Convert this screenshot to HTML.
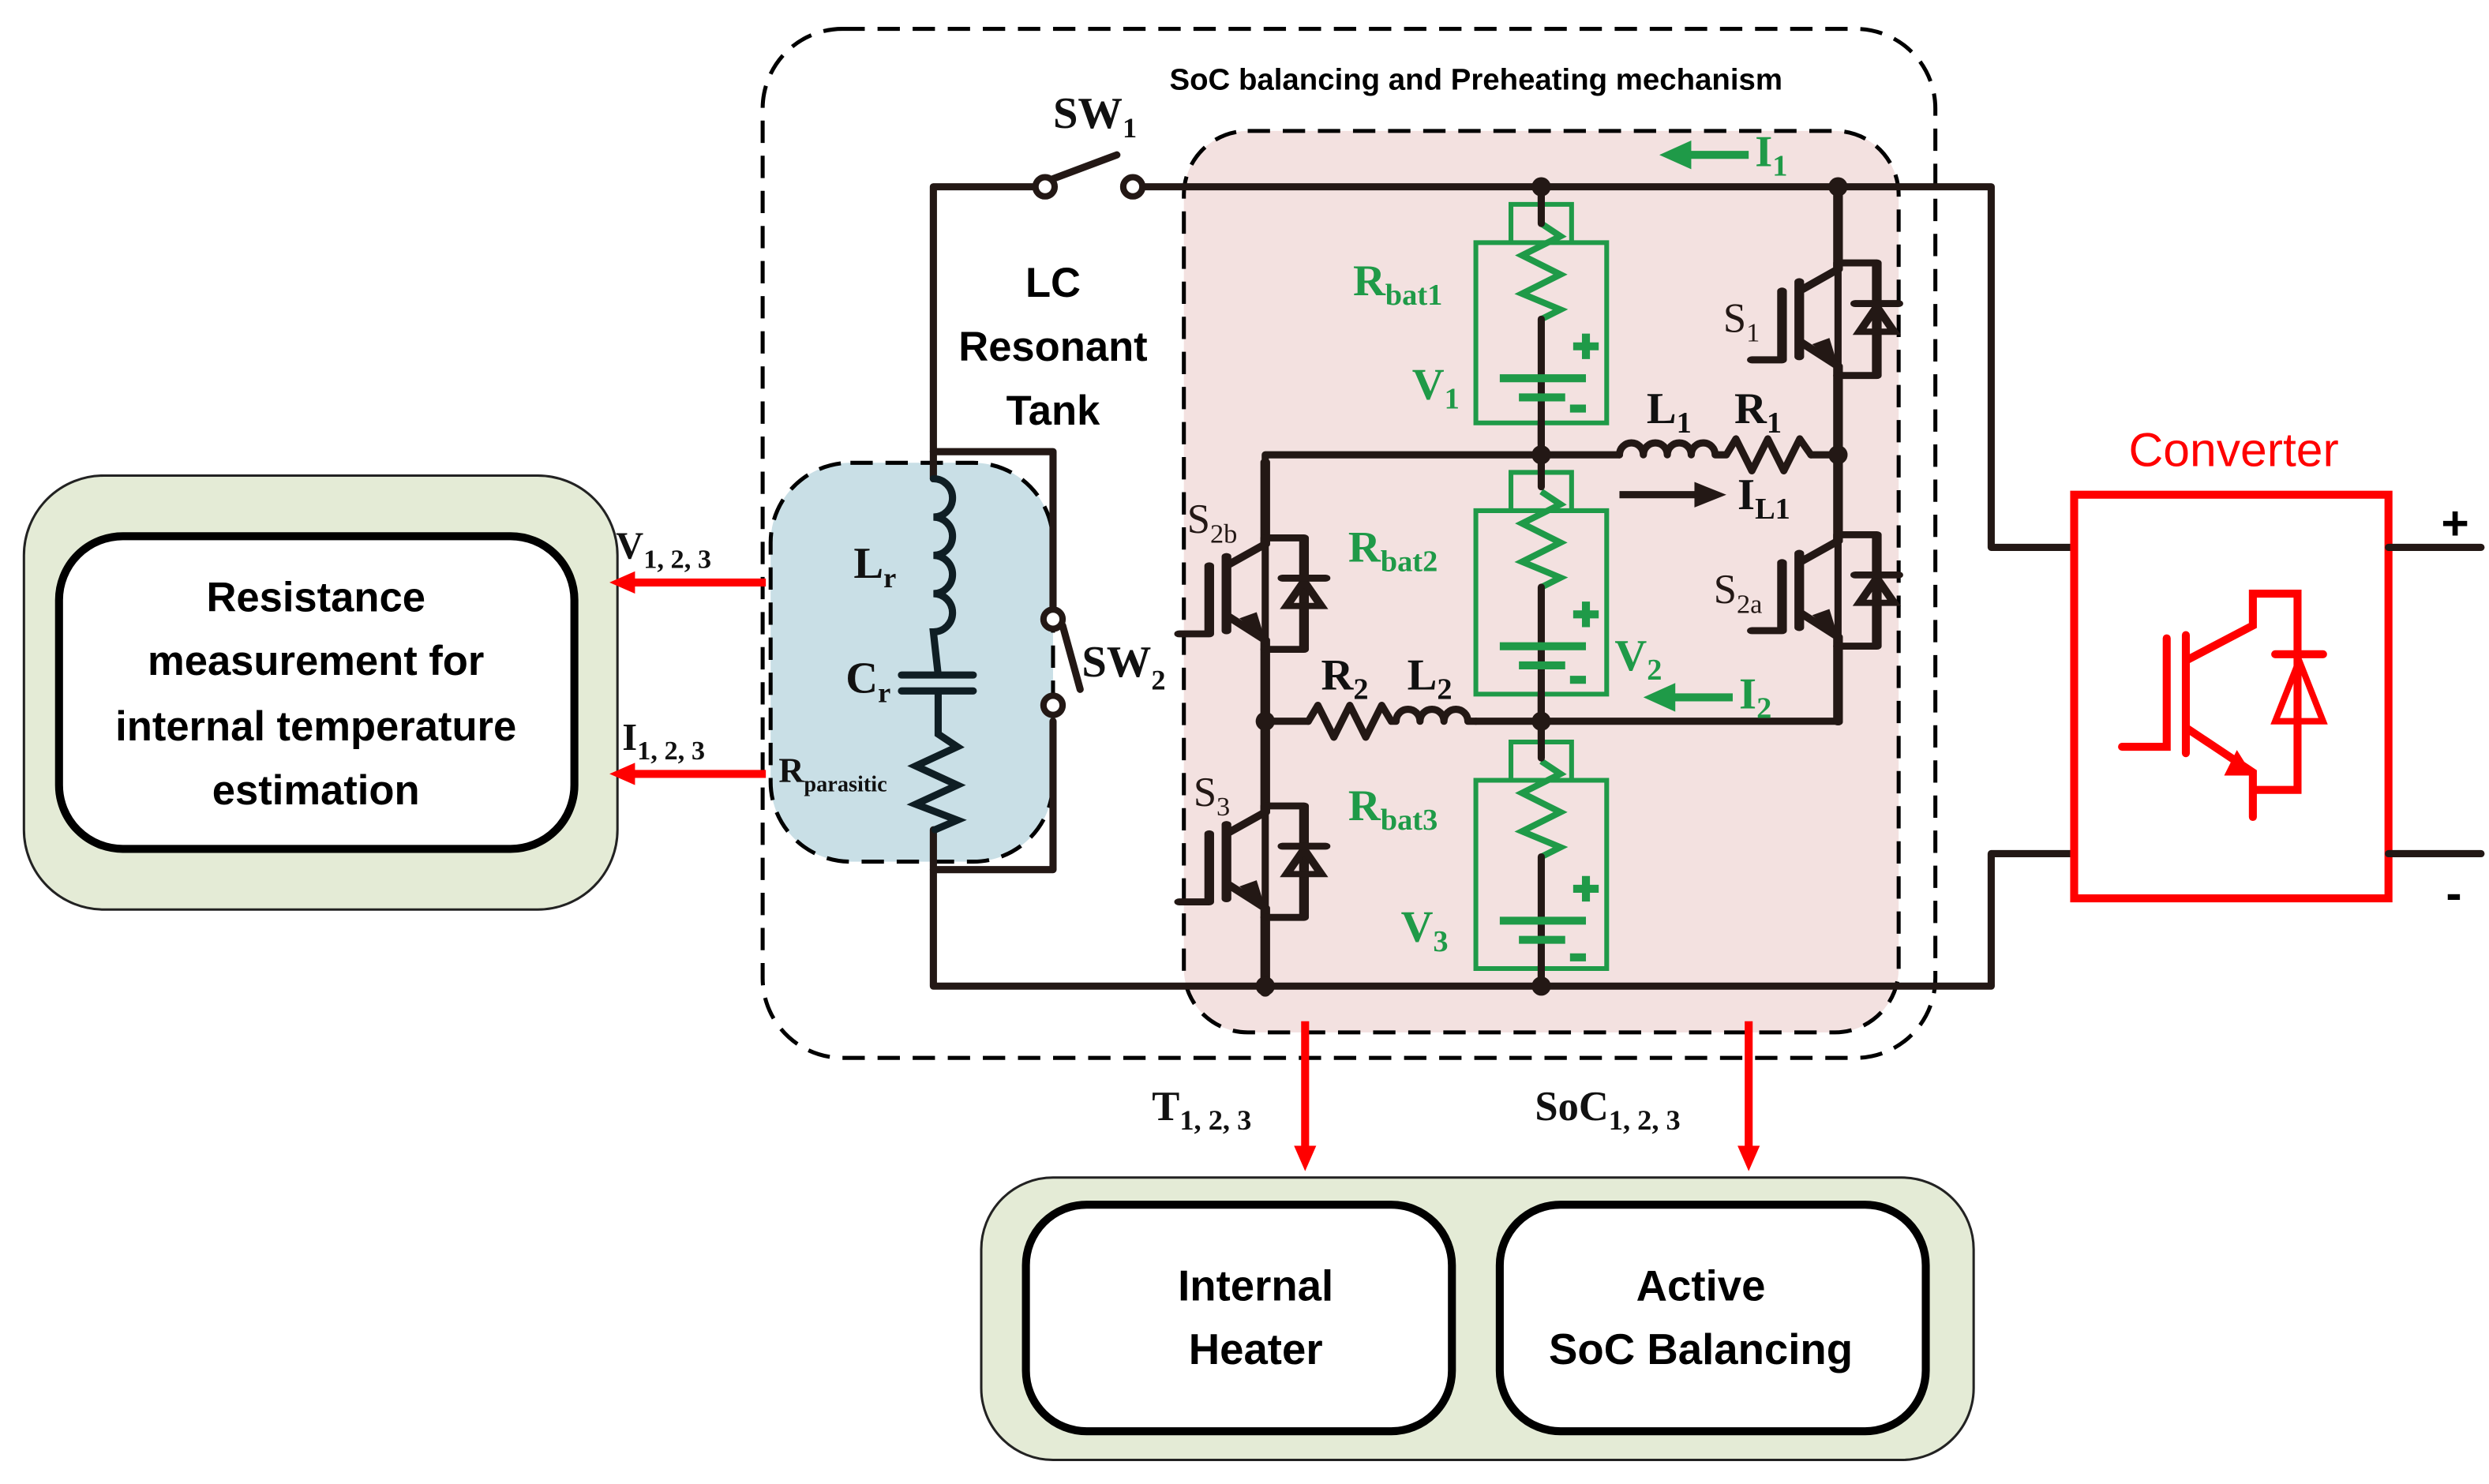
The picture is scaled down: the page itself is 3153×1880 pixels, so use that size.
<!DOCTYPE html>
<html><head><meta charset="utf-8"><style>
html,body{margin:0;padding:0;background:#fff;}
svg{display:block;}
.w{stroke:#231815;stroke-width:4.5;fill:none;stroke-linecap:round;stroke-linejoin:round;}
.g{stroke:#1f9a48;stroke-width:3;fill:none;}
.gt{fill:#1f9a48;font-family:"Liberation Serif",serif;font-weight:bold;}
.bt{fill:#111;font-family:"Liberation Serif",serif;font-weight:bold;}
.st{fill:#231815;font-family:"Liberation Serif",serif;}
.ss{fill:#000;font-family:"Liberation Sans",sans-serif;font-weight:bold;}
.r{stroke:#f00;stroke-width:5;fill:none;}
</style></head><body>
<svg width="3153" height="1880" viewBox="0 0 1560 930" xmlns="http://www.w3.org/2000/svg">
<defs>
<marker id="ar" markerWidth="16" markerHeight="14" refX="2" refY="7" orient="auto" markerUnits="userSpaceOnUse" viewBox="0 0 16 14"><path d="M0,0 L16,7 L0,14z" fill="#f00"/></marker>
<g id="igbtR">
<path class="w" d="M0,-85 V-32 L-18,-18 M-18,-24 V24 M-26,-18 V26 H-40 M-18,14 L0,30 V85"/>
<path d="M0,30 L-12,16 L-4,12z" fill="#231815"/>
<path class="w" d="M0,-32 V-36 H18 V36 H0"/>
<path d="M10,8 L26,8 L18,-8z" fill="none" stroke="#231815" stroke-width="4"/>
<path class="w" d="M8,-10 H28"/>
</g>
</defs>

<rect x="15" y="298" width="372" height="272" rx="50" fill="#e4ebd6" stroke="#222" stroke-width="1.5"/>
<rect x="37" y="336" width="323" height="196" rx="40" fill="#fff" stroke="#000" stroke-width="5"/>
<g class="ss" font-size="26" text-anchor="middle">
<text x="198" y="383">Resistance</text>
<text x="198" y="423">measurement  for</text>
<text x="198" y="464">internal temperature</text>
<text x="198" y="504">estimation</text>
</g>

<rect x="478" y="18" width="735" height="645" rx="50" fill="none" stroke="#000" stroke-width="2.5" stroke-dasharray="14,8"/>
<text class="ss" x="733" y="56" font-size="19">SoC balancing and Preheating mechanism</text>
<rect x="742" y="82" width="448" height="565" rx="40" fill="#f3e1e0" stroke="#000" stroke-width="2.5" stroke-dasharray="14,8"/>
<rect x="483" y="290" width="177" height="250" rx="50" fill="#c9dfe6" stroke="#000" stroke-width="2.5" stroke-dasharray="14,8"/>

<path class="w" d="M585,300 V117 H650 M716,117 H1248 V343 H1300"/>
<path class="w" d="M585,520 V618 H1248 V535 H1300"/>
<path class="w" d="M585,283 H660 V382 M660,452 V545 H585"/>
<circle cx="655" cy="117" r="6" fill="#fff" stroke="#231815" stroke-width="4"/>
<circle cx="710" cy="117" r="6" fill="#fff" stroke="#231815" stroke-width="4"/>
<path class="w" d="M660,112 L700,97"/>
<circle cx="660" cy="388" r="6" fill="#fff" stroke="#231815" stroke-width="4"/>
<circle cx="660" cy="442" r="6" fill="#fff" stroke="#231815" stroke-width="4"/>
<path class="w" d="M666,392 L677,432"/>
<text class="bt" x="660" y="80" font-size="28">SW<tspan font-size="18" dy="6">1</tspan></text>
<text class="bt" x="678" y="424" font-size="28">SW<tspan font-size="18" dy="8">2</tspan></text>
<g class="ss" font-size="26" text-anchor="middle">
<text x="660" y="186">LC</text><text x="660" y="226">Resonant</text><text x="660" y="266">Tank</text></g>

<path d="M585,300 a12,12 0 0 1 0,24 a12,12 0 0 1 0,24 a12,12 0 0 1 0,24 a12,12 0 0 1 0,24 L588,423 M565,423 H610 M565,433 H610 M588,433 V460 L600,468 L574,480 L600,492 L574,504 L600,514 L586,520" fill="none" stroke="#0f1e24" stroke-width="4.5" stroke-linecap="round"/>
<text class="bt" x="535" y="362" font-size="28">L<tspan font-size="18" dy="6">r</tspan></text>
<text class="bt" x="530" y="434" font-size="28">C<tspan font-size="18" dy="6">r</tspan></text>
<text class="bt" x="488" y="490" font-size="22">R<tspan font-size="14" dy="6">parasitic</tspan></text>

<path class="r" d="M480,365 H396" marker-end="url(#ar)"/>
<path class="r" d="M480,485 H396" marker-end="url(#ar)"/>
<text class="bt" x="386" y="350" font-size="24">V<tspan font-size="17" dy="6">1, 2, 3</tspan></text>
<text class="bt" x="390" y="470" font-size="24">I<tspan font-size="17" dy="6">1, 2, 3</tspan></text>

<path class="w" d="M966,117 V618 M1152,117 V452 H966 M793,452 H820 M925,452 H966"/>
<path class="w" d="M793,285 H1015 M1135,285 H1152 M793,285 V618"/>
<path class="w" d="M1015,285 a7.5,7.5 0 0 1 15,0 a7.5,7.5 0 0 1 15,0 a7.5,7.5 0 0 1 15,0 a7.5,7.5 0 0 1 15,0 L1082,285 L1088,275 L1098,295 L1108,275 L1118,295 L1128,275 L1135,285"/>
<path class="w" d="M820,452 L826,442 L836,462 L846,442 L856,462 L866,442 L872,452 L875,452 a7.5,7.5 0 0 1 15,0 a7.5,7.5 0 0 1 15,0 a7.5,7.5 0 0 1 15,0 L925,452"/>

<g transform="translate(0,128)">
<rect x="925" y="0" width="82" height="135" fill="#f3e1e0" stroke="none"/>
<path class="g" d="M947,0 H985 V24 H947z M925,24 H1007 V137 H925z"/>
<path d="M966,12 L978,20 L954,32 L978,44 L954,56 L978,66 L966,72" stroke="#1f9a48" stroke-width="4" fill="none"/>
<path class="w" d="M966,72 V150"/>
<path d="M940,109 H994 M952,121 H981 M986,89 H1002 M994,81 V97 M984,128 H994" stroke="#1f9a48" stroke-width="5" fill="none"/>
</g>
<g transform="translate(0,296)">
<rect x="925" y="0" width="82" height="137" fill="#f3e1e0" stroke="none"/>
<path class="g" d="M947,0 H985 V24 H947z M925,24 H1007 V139 H925z"/>
<path d="M966,12 L978,20 L954,32 L978,44 L954,56 L978,66 L966,72" stroke="#1f9a48" stroke-width="4" fill="none"/>
<path class="w" d="M966,72 V150"/>
<path d="M940,109 H994 M952,121 H981 M986,89 H1002 M994,81 V97 M984,130 H994" stroke="#1f9a48" stroke-width="5" fill="none"/>
</g>
<g transform="translate(0,465)">
<rect x="925" y="0" width="82" height="140" fill="#f3e1e0" stroke="none"/>
<path class="g" d="M947,0 H985 V24 H947z M925,24 H1007 V142 H925z"/>
<path d="M966,12 L978,20 L954,32 L978,44 L954,56 L978,66 L966,72" stroke="#1f9a48" stroke-width="4" fill="none"/>
<path class="w" d="M966,72 V153"/>
<path d="M940,112 H994 M952,124 H981 M986,92 H1002 M994,84 V100 M984,135 H994" stroke="#1f9a48" stroke-width="5" fill="none"/>
</g>
<path class="w" d="M966,117 V140 M966,265 V305 M966,435 V475"/>

<g class="gt" font-size="28">
<text x="848" y="185">R<tspan font-size="19" dy="6">bat1</tspan></text>
<text x="885" y="250">V<tspan font-size="19" dy="6">1</tspan></text>
<text x="845" y="352">R<tspan font-size="19" dy="6">bat2</tspan></text>
<text x="1012" y="420">V<tspan font-size="19" dy="6">2</tspan></text>
<text x="845" y="514">R<tspan font-size="19" dy="6">bat3</tspan></text>
<text x="878" y="590">V<tspan font-size="19" dy="6">3</tspan></text>
<text x="1100" y="104">I<tspan font-size="19" dy="6">1</tspan></text>
<text x="1090" y="444">I<tspan font-size="19" dy="6">2</tspan></text>
</g>
<path d="M1096,97 H1055" stroke="#1f9a48" stroke-width="5"/><path d="M1040,97 L1060,88 L1060,106z" fill="#1f9a48"/>
<path d="M1086,437 H1045" stroke="#1f9a48" stroke-width="5"/><path d="M1030,437 L1050,428 L1050,446z" fill="#1f9a48"/>
<path d="M1015,310 H1065" stroke="#231815" stroke-width="4.5"/><path d="M1082,310 L1062,302 L1062,318z" fill="#231815"/>
<text class="bt" x="1089" y="319" font-size="28" fill="#231815">I<tspan font-size="19" dy="6">L1</tspan></text>
<text class="bt" x="1032" y="265" font-size="28" fill="#231815">L<tspan font-size="19" dy="6">1</tspan></text>
<text class="bt" x="1087" y="265" font-size="28" fill="#231815">R<tspan font-size="19" dy="6">1</tspan></text>
<text class="bt" x="828" y="432" font-size="28" fill="#231815">R<tspan font-size="19" dy="6">2</tspan></text>
<text class="bt" x="882" y="432" font-size="28" fill="#231815">L<tspan font-size="19" dy="6">2</tspan></text>

<use href="#igbtR" transform="translate(1152,200) scale(1.35,0.98)"/>
<use href="#igbtR" transform="translate(1152,370) scale(1.35,0.97)"/>
<use href="#igbtR" transform="translate(793,372) scale(1.35,0.97)"/>
<use href="#igbtR" transform="translate(793,540) scale(1.35,0.97)"/>
<g class="st" font-size="26">
<text x="1080" y="208">S<tspan font-size="17" dy="6">1</tspan></text>
<text x="1074" y="378">S<tspan font-size="17" dy="6">2a</tspan></text>
<text x="744" y="334">S<tspan font-size="17" dy="6">2b</tspan></text>
<text x="748" y="505">S<tspan font-size="17" dy="6">3</tspan></text>
</g>

<g fill="#231815">
<circle cx="966" cy="117" r="6"/><circle cx="1152" cy="117" r="6"/>
<circle cx="966" cy="285" r="6"/><circle cx="1152" cy="285" r="6"/>
<circle cx="966" cy="452" r="6"/><circle cx="793" cy="452" r="6"/>
<circle cx="966" cy="618" r="6"/><circle cx="793" cy="618" r="6"/>
</g>

<text x="1400" y="292" font-size="30" fill="#f00" text-anchor="middle" font-family="Liberation Sans, sans-serif">Converter</text>
<rect x="1300" y="310" width="197" height="253" fill="#fff" stroke="#f00" stroke-width="5"/>
<path class="w" d="M1497,343 H1555 M1497,535 H1555"/>
<text x="1530" y="338" font-size="30" font-family="Liberation Sans, sans-serif" font-weight="bold">+</text>
<text x="1533" y="570" font-size="30" font-family="Liberation Sans, sans-serif" font-weight="bold">-</text>
<g stroke="#f00" stroke-width="5" fill="none" stroke-linecap="round">
<path d="M1330,468 H1358 V400 M1370,398 V472 M1370,414 L1412,392 V372 H1440 V495 H1412 M1370,456 L1412,484 V512"/>
<path d="M1426,410 H1456"/>
<path d="M1426,452 L1456,452 L1441,414z" stroke-width="4"/>
</g>
<path d="M1412,486 L1394,486 L1402,470z" fill="#f00"/>

<path class="r" d="M818,640 V720" marker-end="url(#ar)"/>
<path class="r" d="M1096,640 V720" marker-end="url(#ar)"/>
<text class="bt" x="722" y="702" font-size="26">T<tspan font-size="18" dy="6">1, 2, 3</tspan></text>
<text class="bt" x="962" y="702" font-size="26">SoC<tspan font-size="18" dy="6">1, 2, 3</tspan></text>

<rect x="615" y="738" width="622" height="177" rx="45" fill="#e4ebd6" stroke="#222" stroke-width="1.5"/>
<rect x="643" y="755" width="267" height="142" rx="38" fill="#fff" stroke="#000" stroke-width="5"/>
<rect x="940" y="755" width="267" height="142" rx="38" fill="#fff" stroke="#000" stroke-width="5"/>
<g class="ss" font-size="27" text-anchor="middle">
<text x="787" y="815">Internal</text><text x="787" y="855">Heater</text>
<text x="1066" y="815">Active</text><text x="1066" y="855">SoC Balancing</text>
</g>
</svg>
</body></html>
